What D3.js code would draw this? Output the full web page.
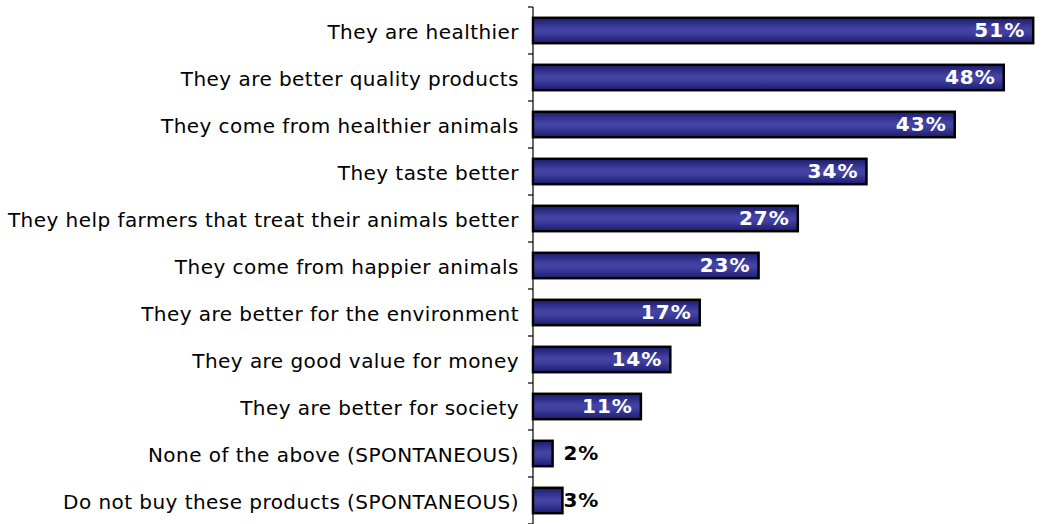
<!DOCTYPE html>
<html>
<head>
<meta charset="utf-8">
<script src="https://cdn.jsdelivr.net/npm/d3@7"></script>
<style>
  body { margin: 0; background: #fff; }
  svg { display: block; }
</style>
</head>
<body>
<div id="chart"></div>
<script>
const categories = [
  'They are healthier',
  'They are better quality products',
  'They come from healthier animals',
  'They taste better',
  'They help farmers that treat their animals better',
  'They come from happier animals',
  'They are better for the environment',
  'They are good value for money',
  'They are better for society',
  'None of the above (SPONTANEOUS)',
  'Do not buy these products (SPONTANEOUS)'
];
const values = [51, 48, 43, 34, 27, 23, 17, 14, 11, 2, 3];

const width = 1044, height = 524;
const axisX = 533;

const svg = d3.select('#chart').append('svg')
  .attr('width', width)
  .attr('height', height);

// bar gradient: dark edges, lighter middle
const grad = svg.append('defs').append('linearGradient')
  .attr('id', 'barGrad')
  .attr('x1', 0).attr('y1', 0).attr('x2', 0).attr('y2', 1);
grad.append('stop').attr('offset', '0%').attr('stop-color', '#1c1c70');
grad.append('stop').attr('offset', '45%').attr('stop-color', '#4444a4');
grad.append('stop').attr('offset', '60%').attr('stop-color', '#4040a0');
grad.append('stop').attr('offset', '100%').attr('stop-color', '#1c1c70');

const x = d3.scaleLinear().domain([0, 52]).range([axisX, 1043]);
const y = d3.scaleBand().domain(categories).range([7, 524]).paddingInner(0.46).paddingOuter(0.23);
const step = y.step();

const data = categories.map((c, i) => ({ cat: c, value: values[i] }));

// bars
svg.append('g').selectAll('rect')
  .data(data)
  .enter()
  .append('rect')
  .attr('x', axisX)
  .attr('y', d => y(d.cat))
  .attr('width', d => x(d.value) - axisX)
  .attr('height', y.bandwidth())
  .attr('fill', 'url(#barGrad)')
  .attr('stroke', '#000')
  .attr('stroke-width', 2.5);

// axis line + ticks at band boundaries
const axis = svg.append('g');
axis.append('line')
  .attr('x1', axisX).attr('x2', axisX)
  .attr('y1', 7).attr('y2', 524)
  .attr('stroke', '#000').attr('stroke-width', 1.2);
axis.selectAll('line.tick')
  .data(d3.range(categories.length + 1))
  .enter()
  .append('line')
  .attr('class', 'tick')
  .attr('x1', axisX - 5).attr('x2', axisX)
  .attr('y1', i => 7 + i * step).attr('y2', i => 7 + i * step)
  .attr('stroke', '#000').attr('stroke-width', 1.2);

// category labels
svg.append('g').selectAll('text')
  .data(data)
  .enter()
  .append('text')
  .attr('x', 519)
  .attr('y', d => y(d.cat) + y.bandwidth() / 2)
  .attr('dy', '0.4em')
  .attr('text-anchor', 'end')
  .attr('font-family', 'DejaVu Sans, Verdana, sans-serif')
  .attr('font-size', '20px')
  .attr('letter-spacing', '0.45px')
  .attr('fill', '#000')
  .text(d => d.cat);

// value labels: inside (white) for long bars, outside (black) for short
svg.append('g').selectAll('text')
  .data(data)
  .enter()
  .append('text')
  .attr('x', d => d.value > 5 ? x(d.value) - 8 : x(3) + 1)
  .attr('y', d => y(d.cat) + y.bandwidth() / 2)
  .attr('dy', '0.32em')
  .attr('text-anchor', d => d.value > 5 ? 'end' : 'start')
  .attr('font-family', 'DejaVu Sans, Verdana, sans-serif')
  .attr('font-weight', 'bold')
  .attr('font-size', '20px')
  .attr('letter-spacing', '1px')
  .attr('fill', d => d.value > 5 ? '#fff' : '#000')
  .text(d => d.value + '%');
</script>
</body>
</html>
